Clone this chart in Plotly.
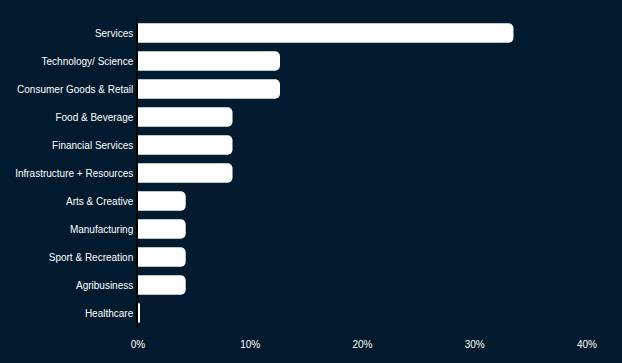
import plotly.graph_objects as go

categories = ["Services", "Technology/ Science", "Consumer Goods & Retail", "Food & Beverage",
              "Financial Services", "Infrastructure + Resources", "Arts & Creative",
              "Manufacturing", "Sport & Recreation", "Agribusiness", "Healthcare"]
values = [33.45, 12.65, 12.65, 8.42, 8.42, 8.42, 4.25, 4.25, 4.25, 4.25, 0.15]
tick_vals = [0, 10, 20, 30, 40]
tick_text = ["0%", "10%", "20%", "30%", "40%"]

bg = "#011a2e"
fig = go.Figure(go.Bar(
    x=values, y=categories, orientation="h",
    marker=dict(color="white", line=dict(width=0)),
    width=0.69,
))
fig.update_layout(
    width=622, height=363,
    paper_bgcolor=bg, plot_bgcolor=bg,
    margin=dict(l=138, r=35, t=19, b=36),
    barcornerradius=5,
    font=dict(family="Liberation Sans, Arial, sans-serif", size=10, color="white"),
    showlegend=False,
)
fig.update_xaxes(range=[0, 40], tickvals=tick_vals, ticktext=tick_text,
                 showgrid=False, zeroline=False, showline=False, ticks="",
                 ticklabelstandoff=10, fixedrange=True)
fig.update_yaxes(autorange="reversed", showgrid=False, zeroline=False,
                 showline=True, linecolor="black", linewidth=1.5,
                 ticks="", ticklabelstandoff=1)
fig.write_html("out.html", config={"displayModeBar": False},
               post_script="document.body.style.margin='0';document.body.style.background='%s';" % bg)
